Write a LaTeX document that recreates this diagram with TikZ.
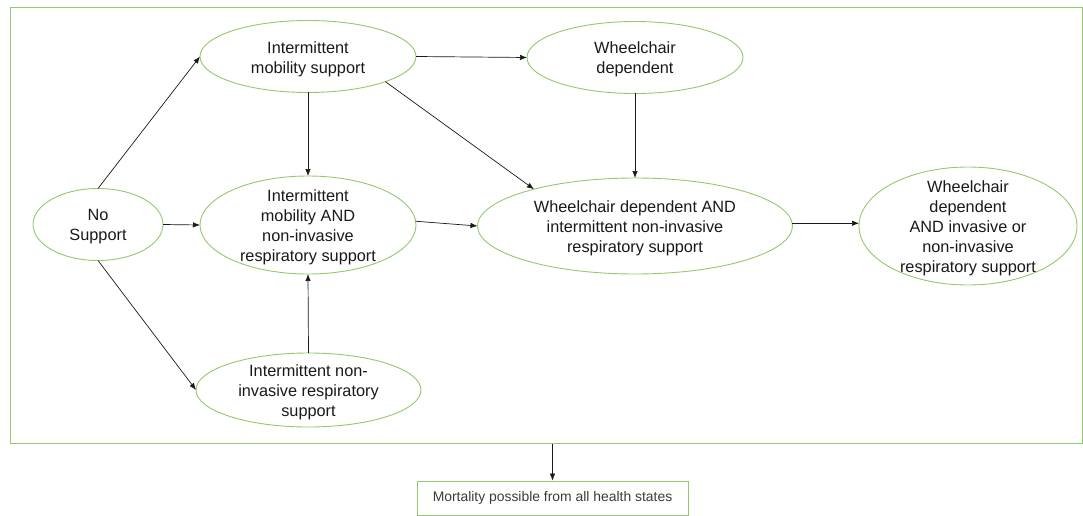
\documentclass[tikz,border=0pt]{standalone}
\usepackage{fontspec}
\setmainfont{Liberation Sans}
\usetikzlibrary{shapes.geometric,arrows.meta}
\definecolor{grn}{RGB}{146,200,110}
\definecolor{ink}{RGB}{25,25,25}
\tikzset{
  state/.style={ellipse, draw=grn, line width=0.9pt, inner sep=0pt, outer sep=0pt},
  txt/.style={align=center, text=ink, inner sep=0pt, font=\fontsize{16.3}{20}\selectfont},
  arr/.style={-{Latex[length=7pt,width=5.5pt]}, draw=ink, line width=0.7pt},
  frame/.style={draw=grn, line width=0.9pt},
  mbox/.style={rectangle, draw=grn, line width=0.9pt, minimum width=271pt, minimum height=34pt,
    inner sep=0pt, text=ink!85, font=\fontsize{13.9}{16}\selectfont}
}
\begin{document}
\begin{tikzpicture}[x=1pt,y=-1pt]
\useasboundingbox (0,0) rectangle (1083,516);
\node[frame, rectangle, minimum width=1072pt, minimum height=436pt, inner sep=0pt] (fr) at (546,225) {};
\node[state, minimum width=130pt, minimum height=72pt] (ns) at (98,224.5) {};
\node[state, minimum width=216pt, minimum height=72pt] (ims) at (308,56.5) {};
\node[state, minimum width=216pt, minimum height=72pt] (wd) at (635,57.5) {};
\node[state, minimum width=216pt, minimum height=98pt] (imand) at (308,225) {};
\node[state, minimum width=315pt, minimum height=96pt] (wdand) at (635,226) {};
\node[state, minimum width=218pt, minimum height=118pt] (wain) at (968,226) {};
\node[state, minimum width=225pt, minimum height=74pt] (inirs) at (308.5,390) {};
\node[txt] (nst) at ([yshift=-2pt]ns.center) {No\\Support};
\node[txt] (imst) at ([yshift=-2.5pt]ims.center) {Intermittent\\mobility support};
\node[txt] (wdt) at ([yshift=-2pt]wd.center) {Wheelchair\\dependent};
\node[txt] (imandt) at ([yshift=-2pt]imand.center) {Intermittent\\mobility AND\\non-invasive\\respiratory support};
\node[txt] (wdandt) at ([yshift=-2pt]wdand.center) {Wheelchair dependent AND\\intermittent non-invasive\\respiratory support};
\node[txt] (waint) at ([yshift=-2pt]wain.center) {Wheelchair\\dependent\\AND invasive or\\non-invasive\\respiratory support};
\node[txt] (inirst) at ([yshift=-2pt]inirs.center) {Intermittent non-\\invasive respiratory\\support};
\node[mbox] (mort) at (552.5,498) {Mortality possible from all health states};
\draw[arr] (ns.north) -- (ims.west);
\draw[arr] (ns.east) -- (imand.west);
\draw[arr] (ns.south) -- (inirs.west);
\draw[arr] (ims.south) -- (imand.north);
\draw[arr] (ims.east) -- (wd.west);
\draw[arr] (ims.-18) -- (wdand.160);
\draw[arr] (wd.south) -- (wdand.north);
\draw[arr] (imand.2) -- (wdand.west);
\draw[arr] (wdand.1.5) -- (wdand.1.5 -| wain.west);
\draw[arr] (inirs.north) -- (imand.south);
\draw[arr] (fr.south -| mort.north) ++(0,1) -- (mort.north);
\end{tikzpicture}
\end{document}
